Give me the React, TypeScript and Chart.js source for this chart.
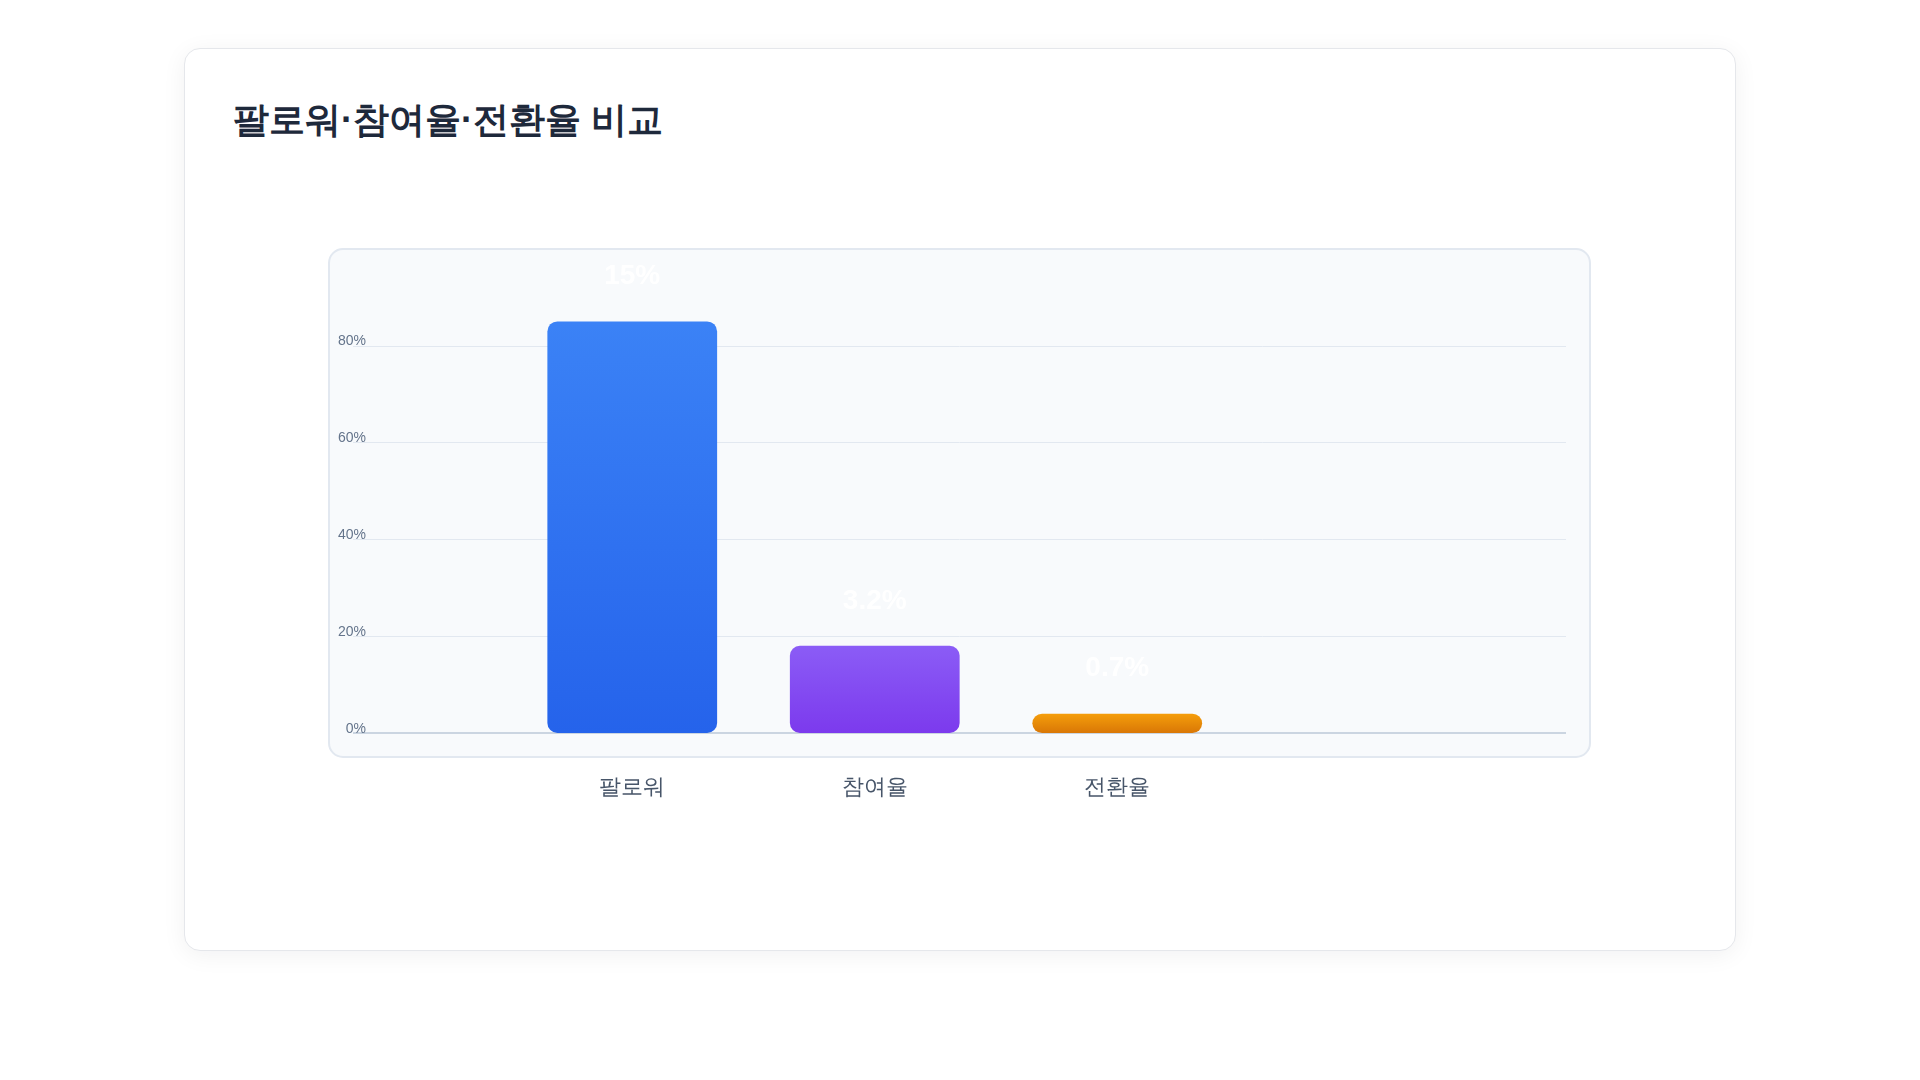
import React, { useEffect, useRef } from "react";
import { Chart, registerables } from "chart.js";

Chart.register(...registerables);

// values
const categories = ["팔로워", "참여율", "전환율"];
const barValues = [85, 18, 4];
const valueLabels = ["15%", "3.2%", "0.7%"];
const yTicks = [0, 20, 40, 60, 80];
const yMax = 95;

const topColors = ["#3b82f6", "#8b5cf6", "#f59e0b"];
const bottomColors = ["#2563eb", "#7c3aed", "#d97706"];

// horizontal extent of the grid panel inside the canvas
const GRID_LEFT = 120;
const GRID_RIGHT = 1333;
const PANEL_PAD = 24;

const panelPlugin = {
  id: "panel",
  beforeDraw(chart: Chart) {
    const { ctx, chartArea, scales } = chart;
    const y = scales.y;
    const x0 = GRID_LEFT - PANEL_PAD;
    const y0 = chartArea.top - PANEL_PAD;
    const w = GRID_RIGHT - GRID_LEFT + PANEL_PAD * 2;
    const h = chartArea.bottom - chartArea.top + PANEL_PAD * 2;
    ctx.save();
    ctx.beginPath();
    ctx.roundRect(x0, y0, w, h, 14);
    ctx.fillStyle = "#f8fafc";
    ctx.fill();
    ctx.lineWidth = 2;
    ctx.strokeStyle = "#e2e8f0";
    ctx.stroke();

    yTicks.forEach((v) => {
      const py = Math.round(y.getPixelForValue(v));
      ctx.beginPath();
      if (v === 0) {
        ctx.lineWidth = 2;
        ctx.strokeStyle = "#cbd5e1";
        ctx.moveTo(GRID_LEFT, py);
        ctx.lineTo(GRID_RIGHT, py);
      } else {
        ctx.lineWidth = 1;
        ctx.strokeStyle = "#e2e8f0";
        ctx.moveTo(GRID_LEFT, py + 0.5);
        ctx.lineTo(GRID_RIGHT, py + 0.5);
      }
      ctx.stroke();
    });
    ctx.restore();
  },
  afterDatasetsDraw(chart: Chart) {
    const { ctx } = chart;
    const meta = chart.getDatasetMeta(0);
    ctx.save();
    ctx.font = "bold 28px 'Helvetica Neue', Helvetica, Arial, sans-serif";
    ctx.fillStyle = "#ffffff";
    ctx.textAlign = "center";
    ctx.textBaseline = "middle";
    meta.data.forEach((bar: any, i: number) => {
      ctx.fillText(valueLabels[i], bar.x, bar.y - 45);
    });
    ctx.restore();
  },
};

const BarChart = () => {
  const canvasRef = useRef<HTMLCanvasElement | null>(null);
  const chartRef = useRef<Chart | null>(null);

  useEffect(() => {
    if (!canvasRef.current) return;
    const ctx = canvasRef.current.getContext("2d");
    if (!ctx) return;
    if (chartRef.current) chartRef.current.destroy();

    chartRef.current = new Chart(ctx, {
      type: "bar",
      data: {
        labels: categories,
        datasets: [
          {
            label: "비교",
            data: barValues,
            backgroundColor: (c: any) => {
              const i = c.dataIndex ?? 0;
              const chart = c.chart;
              const y = chart.scales && chart.scales.y;
              if (!y) return topColors[i];
              const top = y.getPixelForValue(barValues[i]);
              const bottom = y.getPixelForValue(0);
              if (!isFinite(top) || !isFinite(bottom) || top === bottom) return topColors[i];
              const g = chart.ctx.createLinearGradient(0, top, 0, bottom);
              g.addColorStop(0, topColors[i]);
              g.addColorStop(1, bottomColors[i]);
              return g;
            },
            borderRadius: 10,
            borderSkipped: false,
            categoryPercentage: 0.875,
            barPercentage: 0.8,
          },
        ],
      },
      options: {
        animation: false,
        responsive: true,
        maintainAspectRatio: false,
        layout: {
          padding: { left: 0, right: 448.5, top: 104, bottom: 76 },
        },
        plugins: {
          legend: { display: false },
          tooltip: { enabled: false },
        },
        scales: {
          x: {
            grid: { display: false, drawTicks: false },
            border: { display: false },
            ticks: {
              padding: 42,
              color: "#475569",
              font: { size: 22 },
            },
            afterFit: (scale: any) => {
              scale.height = 80;
            },
          },
          y: {
            min: 0,
            max: yMax,
            grid: { display: false, drawTicks: false },
            border: { display: false },
            afterBuildTicks: (scale: any) => {
              scale.ticks = yTicks.map((v) => ({ value: v }));
            },
            ticks: {
              padding: 145,
              labelOffset: -4,
              color: "#64748b",
              font: { size: 14 },
              callback: (v: any) => `${v}%`,
            },
            afterFit: (scale: any) => {
              scale.width = 278;
              scale.paddingTop = 0;
              scale.paddingBottom = 0;
            },
          },
        },
      },
      plugins: [panelPlugin],
    });

    return () => {
      if (chartRef.current) {
        chartRef.current.destroy();
        chartRef.current = null;
      }
    };
  }, []);

  return <canvas ref={canvasRef}></canvas>;
};

export default function App() {
  return (
    <div style={{ padding: "40px 0", fontFamily: "'Helvetica Neue', Helvetica, Arial, sans-serif" }}>
      <div
        style={{
          position: "relative",
          boxSizing: "border-box",
          width: 1552,
          height: 903,
          margin: "0 auto",
          background: "#ffffff",
          border: "1px solid #e5e7eb",
          borderRadius: 16,
          boxShadow: "0 4px 24px rgba(15, 23, 42, 0.06)",
          padding: 48,
        }}
      >
        <h2
          style={{
            margin: "3px 0 0",
            fontSize: 36,
            lineHeight: 1.1,
            fontWeight: 700,
            color: "#1e293b",
          }}
        >
          팔로워·참여율·전환율 비교
        </h2>
        <div
          style={{
            position: "absolute",
            left: 48,
            top: 120,
            width: 1454,
            height: 720,
          }}
        >
          <BarChart />
        </div>
      </div>
    </div>
  );
}
